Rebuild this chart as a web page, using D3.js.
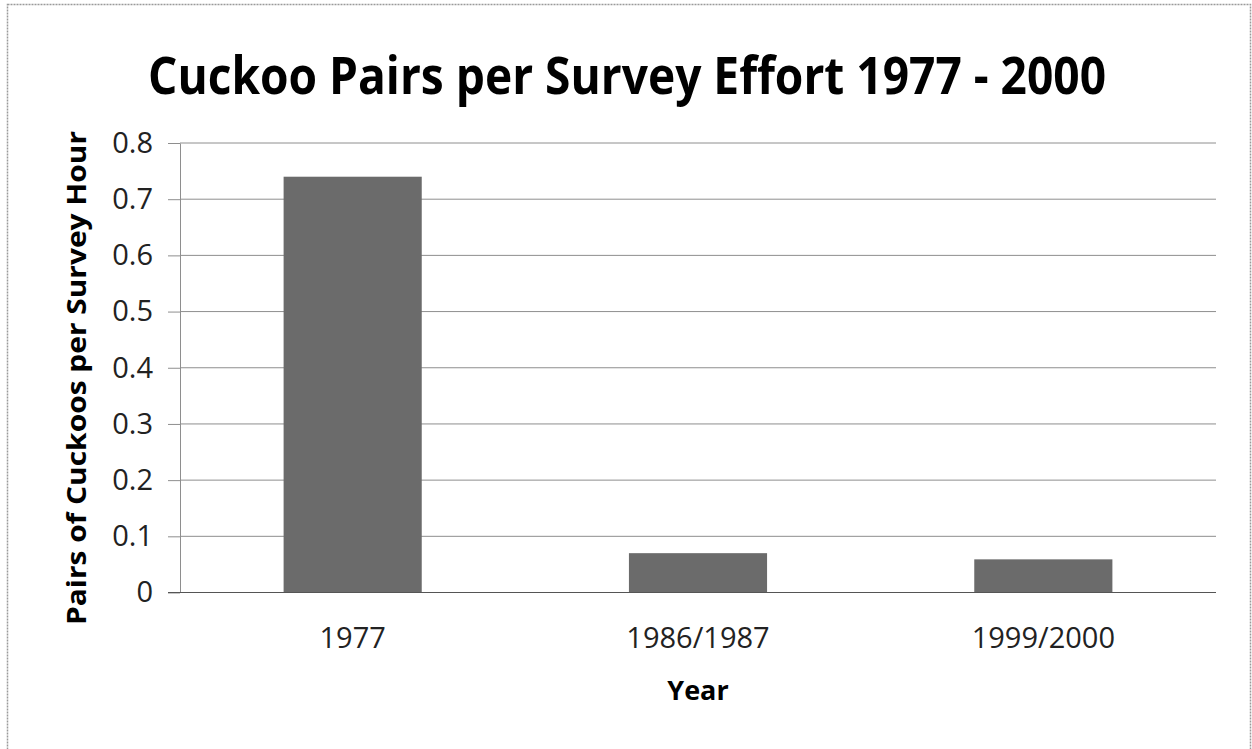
<!DOCTYPE html>
<html>
<head>
<meta charset="utf-8">
<script src="https://cdn.jsdelivr.net/npm/d3@7/dist/d3.min.js"></script>
<style>
  html, body { margin: 0; padding: 0; background: #fff; }
  svg { display: block; }
</style>
</head>
<body>
<svg id="chart" width="1252" height="749"></svg>
<script>
// Survey periods and pairs of cuckoos recorded per survey hour
const categories = ["1977", "1986/1987", "1999/2000"];
const pairsPerHour = [0.74, 0.07, 0.059];
const yTicks = [0, 0.1, 0.2, 0.3, 0.4, 0.5, 0.6, 0.7, 0.8];

const titleText = "Cuckoo Pairs per Survey Effort 1977 - 2000";
const yTitle = "Pairs of Cuckoos per Survey Hour";
const xTitle = "Year";

const svg = d3.select("#chart");
const plot = { left: 180, right: 1216, top: 143, bottom: 592.5 };
const font = "'Open Sans', 'Noto Sans', sans-serif";

// outer chart frame
svg.append("rect")
  .attr("x", 7.5).attr("y", 4.5)
  .attr("width", 1243).attr("height", 760)
  .attr("fill", "#fff")
  .attr("stroke", "#9a9a9a")
  .attr("stroke-width", 1.5)
  .attr("stroke-dasharray", "2,1");

const x = d3.scaleBand()
  .domain(categories)
  .range([plot.left, plot.right])
  .paddingInner(0.6)
  .paddingOuter(0.3);

const y = d3.scaleLinear()
  .domain([0, 0.8])
  .range([plot.bottom, plot.top]);

// horizontal gridlines
svg.append("g")
  .selectAll("line")
  .data(yTicks.filter(d => d > 0))
  .join("line")
  .attr("x1", plot.left).attr("x2", plot.right)
  .attr("y1", d => y(d)).attr("y2", d => y(d))
  .attr("stroke", "#8e8e8e")
  .attr("stroke-width", 1);

// y axis with outward tick marks
const yAxis = d3.axisLeft(y)
  .tickValues(yTicks)
  .tickFormat(d => d === 0 ? "0" : d3.format(".1f")(d))
  .tickSize(12)
  .tickSizeOuter(0)
  .tickPadding(15);

const gy = svg.append("g")
  .attr("transform", `translate(${plot.left},0)`)
  .call(yAxis);
gy.select(".domain").attr("stroke", "#8e8e8e").attr("stroke-width", 1);
gy.selectAll(".tick line").attr("stroke", "#8e8e8e");
gy.selectAll(".tick text")
  .attr("fill", "#222")
  .style("font-family", font)
  .style("font-size", "29px");

// bars
svg.append("g")
  .selectAll("rect")
  .data(categories.map((c, i) => ({ c, v: pairsPerHour[i] })))
  .join("rect")
  .attr("x", d => x(d.c))
  .attr("width", x.bandwidth())
  .attr("y", d => y(d.v))
  .attr("height", d => y(0) - y(d.v))
  .attr("fill", "#6b6b6b");

// category axis baseline
const xAxis = d3.axisBottom(x).tickSize(0).tickPadding(35);
const gx = svg.append("g")
  .attr("transform", `translate(0,${plot.bottom})`)
  .call(xAxis);
gx.select(".domain")
  .attr("d", `M${plot.left - 12},0H${plot.right}`)
  .attr("stroke", "#555")
  .attr("stroke-width", 1);
gx.selectAll(".tick text")
  .attr("fill", "#222")
  .style("font-family", font)
  .style("font-size", "29px");

// chart title
svg.append("text")
  .attr("x", 627).attr("y", 94)
  .attr("text-anchor", "middle")
  .attr("textLength", 958)
  .attr("lengthAdjust", "spacingAndGlyphs")
  .style("font-family", font)
  .style("font-weight", "700")
  .style("font-size", "52px")
  .attr("fill", "#000")
  .text(titleText);

// axis titles
svg.append("text")
  .attr("transform", "translate(86,378) rotate(-90)")
  .attr("text-anchor", "middle")
  .attr("textLength", 494)
  .attr("lengthAdjust", "spacingAndGlyphs")
  .style("font-family", font)
  .style("font-weight", "700")
  .style("font-size", "27px")
  .attr("fill", "#000")
  .text(yTitle);

svg.append("text")
  .attr("x", 698).attr("y", 700)
  .attr("text-anchor", "middle")
  .style("font-family", font)
  .style("font-weight", "700")
  .style("font-size", "27px")
  .attr("fill", "#000")
  .text(xTitle);
</script>
</body>
</html>
